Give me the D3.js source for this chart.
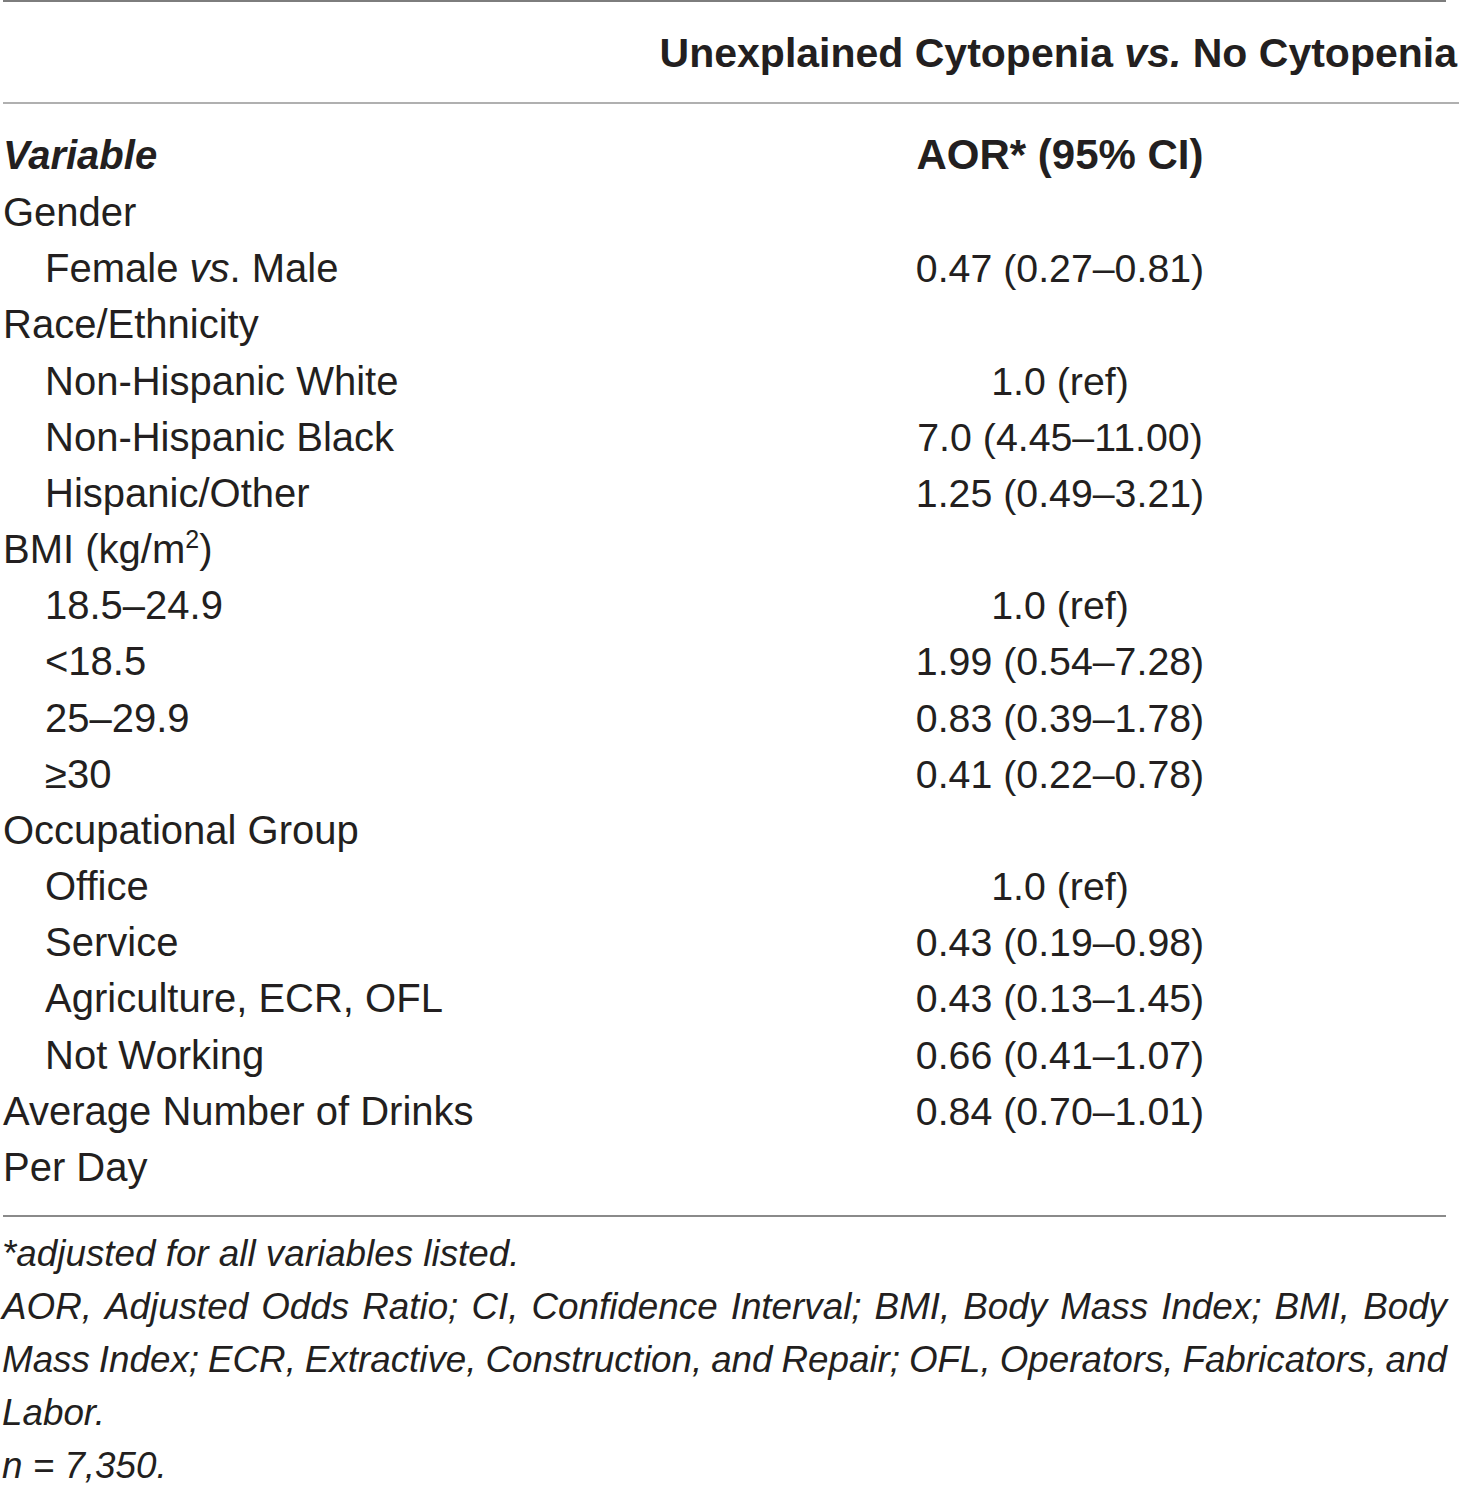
<!DOCTYPE html>
<html>
<head>
<meta charset="utf-8">
<script src="https://cdn.jsdelivr.net/npm/d3@7"></script>
<style>
  body { margin: 0; background: #fff; }
  svg { display: block; }
  text { font-family: "Liberation Sans", Arial, Helvetica, sans-serif; fill: #231f20; }
</style>
</head>
<body>
<svg id="chart" width="1460" height="1488"></svg>
<script>
// table content
var groupTitle = 'Unexplained Cytopenia vs. No Cytopenia';
var colHeaders = ['Variable', 'AOR* (95% CI)'];
var rowLabels = ['Gender', 'Female vs. Male', 'Race/Ethnicity', 'Non-Hispanic White',
    'Non-Hispanic Black', 'Hispanic/Other', 'BMI (kg/m2)', '18.5–24.9', '<18.5',
    '25–29.9', '≥30', 'Occupational Group', 'Office', 'Service', 'Agriculture, ECR, OFL',
    'Not Working', 'Average Number of Drinks', 'Per Day'];
var rowIndent = [0, 1, 0, 1, 1, 1, 0, 1, 1, 1, 1, 0, 1, 1, 1, 1, 0, 0];
var aorValues = ['', '0.47 (0.27–0.81)', '', '1.0 (ref)', '7.0 (4.45–11.00)', '1.25 (0.49–3.21)',
    '', '1.0 (ref)', '1.99 (0.54–7.28)', '0.83 (0.39–1.78)', '0.41 (0.22–0.78)', '',
    '1.0 (ref)', '0.43 (0.19–0.98)', '0.43 (0.13–1.45)', '0.66 (0.41–1.07)', '0.84 (0.70–1.01)', ''];
var footnotes = [
    '*adjusted for all variables listed.',
    'AOR, Adjusted Odds Ratio; CI, Confidence Interval; BMI, Body Mass Index; BMI, Body',
    'Mass Index; ECR, Extractive, Construction, and Repair; OFL, Operators, Fabricators, and',
    'Labor.',
    'n = 7,350.'
];
var justified = [false, true, true, false, false];

var svg = d3.select('#chart');

var rowY = d3.scaleLinear().domain([0, rowLabels.length - 1]).range([226, 1181]);
var indentX = d3.scaleOrdinal().domain([0, 1]).range([3, 45]);
var colX = 1060;
var noteY = d3.scaleLinear().domain([0, footnotes.length - 1]).range([1266, 1478]);

// rules
function rule(y, x2, color) {
    svg.append('line')
        .attr('x1', 3).attr('x2', x2)
        .attr('y1', y).attr('y2', y)
        .style('stroke', color)
        .style('stroke-width', 2);
}
rule(1, 1446, '#7d7d7d');
rule(103, 1459, '#b0b0b0');
rule(1216, 1446, '#8a8a8a');

// spanning header
var head = svg.append('text')
    .attr('x', 1457).attr('y', 67)
    .attr('text-anchor', 'end')
    .style('font-size', '41px')
    .style('font-weight', 'bold');
var parts = groupTitle.split('vs.');
head.append('tspan').text(parts[0]);
head.append('tspan').style('font-style', 'italic').text('vs.');
head.append('tspan').text(parts[1]);

// column headers
svg.append('text')
    .attr('x', 3).attr('y', 169)
    .style('font-size', '40px')
    .style('font-weight', 'bold')
    .style('font-style', 'italic')
    .text(colHeaders[0]);
svg.append('text')
    .attr('x', colX).attr('y', 169)
    .attr('text-anchor', 'middle')
    .style('font-size', '42px')
    .style('font-weight', 'bold')
    .text(colHeaders[1]);

// row labels
var labels = svg.selectAll('text.label')
    .data(rowLabels)
    .enter()
    .append('text')
    .attr('class', 'label')
    .attr('x', function(d, i) {return indentX(rowIndent[i]);})
    .attr('y', function(d, i) {return rowY(i);})
    .style('font-size', '40px');

labels.each(function(d) {
    var t = d3.select(this);
    if(d.indexOf(' vs. ') >= 0) {
        var p = d.split('vs.');
        t.append('tspan').text(p[0]);
        t.append('tspan').style('font-style', 'italic').text('vs');
        t.append('tspan').text('.' + p[1]);
    } else if(d.indexOf('m2)') >= 0) {
        t.append('tspan').text(d.replace('2)', ''));
        t.append('tspan').attr('dy', -15).style('font-size', '25px').text('2');
        t.append('tspan').attr('dy', 15).text(')');
    } else {
        t.text(d);
    }
});

// values
svg.selectAll('text.value')
    .data(aorValues)
    .enter()
    .append('text')
    .attr('class', 'value')
    .attr('x', colX)
    .attr('y', function(d, i) {return rowY(i);})
    .attr('text-anchor', 'middle')
    .style('font-size', '39.3px')
    .text(function(d) {return d;});

// footnotes, some lines justified to the rule width
var noteRight = 1447;
footnotes.forEach(function(line, i) {
    var y = noteY(i);
    if(!justified[i]) {
        svg.append('text')
            .attr('x', 2).attr('y', y)
            .style('font-size', '36.8px')
            .style('font-style', 'italic')
            .text(line);
        return;
    }
    var words = line.split(' ');
    var nodes = words.map(function(w) {
        return svg.append('text')
            .attr('y', y)
            .style('font-size', '36.8px')
            .style('font-style', 'italic')
            .text(w);
    });
    var widths = nodes.map(function(n) {return n.node().getComputedTextLength();});
    var gap = (noteRight - 2 - d3.sum(widths)) / (words.length - 1);
    var x = 2;
    nodes.forEach(function(n, k) {
        n.attr('x', x);
        x += widths[k] + gap;
    });
});
</script>
</body>
</html>
